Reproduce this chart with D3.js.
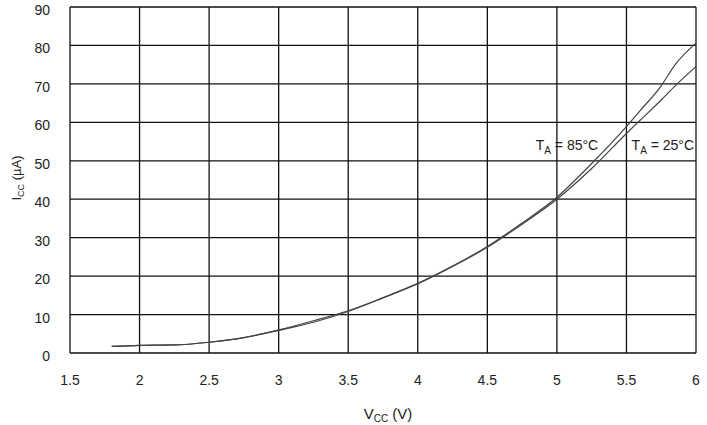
<!DOCTYPE html>
<html><head><meta charset="utf-8">
<script src="https://cdn.jsdelivr.net/npm/d3@7"></script>
<style>body{margin:0;background:#fff}svg{display:block}text{font-family:"Liberation Sans",Arial,sans-serif;fill:#222}</style>
</head><body><svg id="c" width="707" height="425"></svg>
<script>
const vcc = [1.8, 2.0, 2.25, 2.5, 2.75, 3.0, 3.25, 3.5, 3.75, 4.0, 4.25, 4.5, 4.75, 5.0, 5.25, 5.5, 5.6, 5.75, 5.85, 6.0];
const icc25 = [1.7, 2.0, 2.1, 2.8, 4.0, 5.9, 8.0, 10.8, 14.3, 18.0, 22.5, 27.5, 33.5, 40.0, 48.0, 57.1, 60.6, 65.8, 69.5, 74.5];
const icc85 = [1.7, 2.0, 2.1, 2.8, 4.0, 6.0, 8.4, 11.0, 14.4, 18.1, 22.6, 27.7, 33.8, 40.5, 49.3, 58.9, 63.1, 69.5, 75.0, 80.6];
const xTicks = [1.5, 2, 2.5, 3, 3.5, 4, 4.5, 5, 5.5, 6];
const yTicks = [0, 10, 20, 30, 40, 50, 60, 70, 80, 90];
const labels = [{t: "85°C", v: 4.848, y: 52.8}, {t: "25°C", v: 5.537, y: 52.8}];

const svg = d3.select("#c");
const x = d3.scaleLinear().domain([1.5, 6]).range([70, 696]);
const y = d3.scaleLinear().domain([0, 90]).range([353, 7]);

const g = svg.append("g");
g.selectAll(".vg").data(xTicks).join("line")
  .attr("x1", d => x(d)).attr("x2", d => x(d)).attr("y1", y(0)).attr("y2", y(90))
  .attr("stroke", "#111").attr("stroke-width", 1.3);
g.selectAll(".hg").data(yTicks).join("line")
  .attr("y1", d => y(d)).attr("y2", d => y(d)).attr("x1", x(1.5)).attr("x2", x(6))
  .attr("stroke", "#111").attr("stroke-width", 1.3);

svg.selectAll(".xt").data(xTicks).join("text")
  .attr("x", d => x(d)).attr("y", 385).attr("text-anchor", "middle")
  .attr("font-size", 14).text(d => d);
svg.selectAll(".yt").data(yTicks).join("text")
  .attr("x", 50).attr("y", d => y(d) + 8).attr("text-anchor", "end")
  .attr("font-size", 14).text(d => d);

const line = d3.line().x(d => x(d[0])).y(d => y(d[1])).curve(d3.curveMonotoneX);
[icc25, icc85].forEach(s => {
  svg.append("path").datum(vcc.map((v, i) => [v, s[i]]))
    .attr("d", line).attr("fill", "none").attr("stroke", "#444").attr("stroke-width", 1.2);
});

labels.forEach(l => {
  const t = svg.append("text").attr("x", x(l.v)).attr("y", y(l.y)).attr("font-size", 14);
  t.append("tspan").text("T");
  t.append("tspan").attr("font-size", 10).attr("dy", 4).text("A");
  t.append("tspan").attr("dy", -4).text(" = " + l.t);
});

const xt = svg.append("text").attr("x", 388).attr("y", 419).attr("text-anchor", "middle").attr("font-size", 15);
xt.append("tspan").text("V");
xt.append("tspan").attr("font-size", 10).attr("dy", 3).text("CC");
xt.append("tspan").attr("dy", -3).text(" (V)");

const yt = svg.append("text").attr("transform", "translate(21,178) rotate(-90)").attr("text-anchor", "middle").attr("font-size", 13);
yt.append("tspan").text("I");
yt.append("tspan").attr("font-size", 9).attr("dy", 3).text("CC");
yt.append("tspan").attr("dy", -3).text(" (µA)");
</script></body></html>
